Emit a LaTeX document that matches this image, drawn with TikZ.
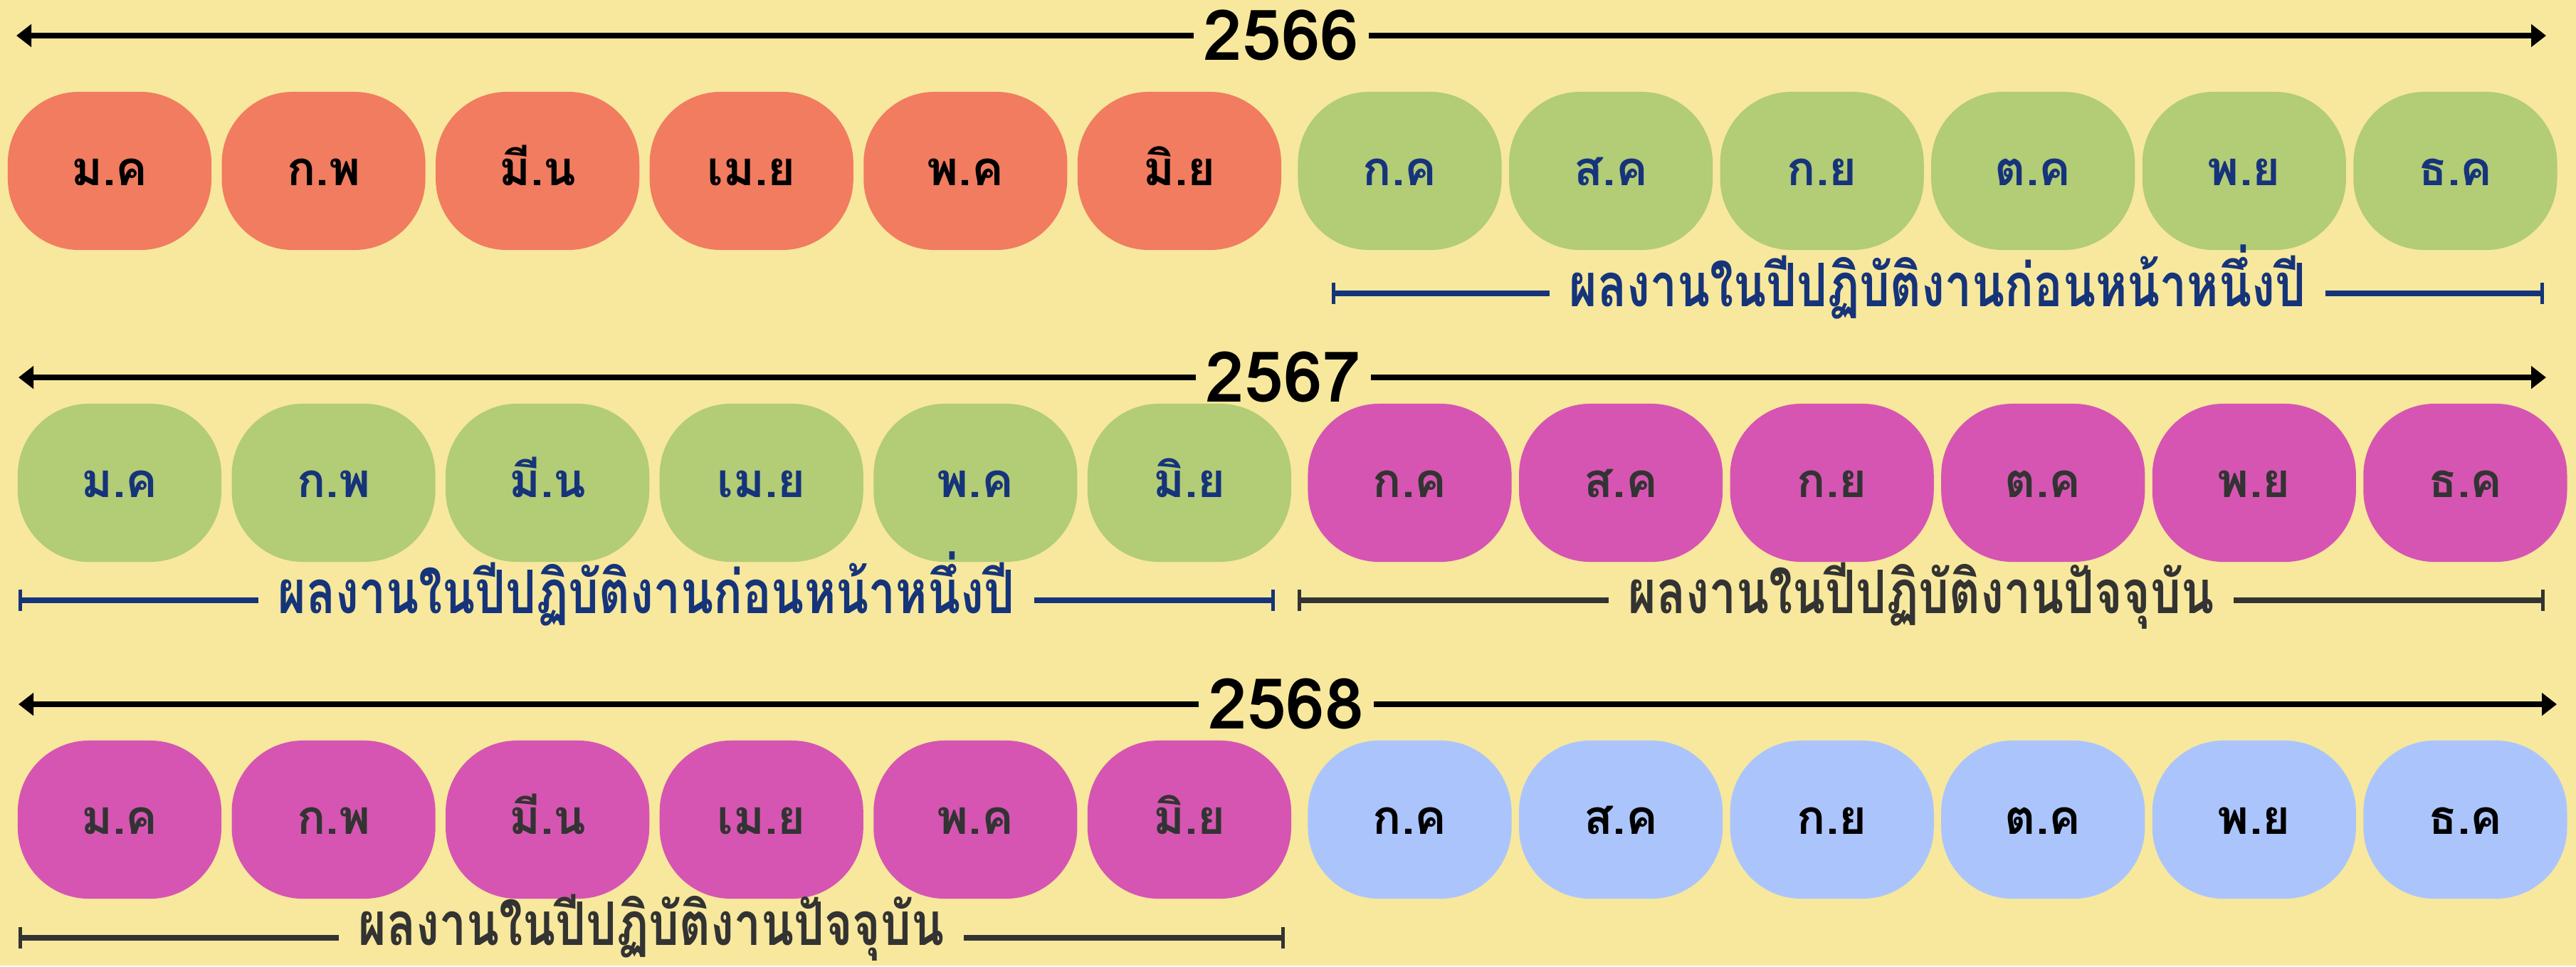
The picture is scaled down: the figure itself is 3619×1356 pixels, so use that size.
\documentclass[tikz,border=0pt]{standalone}
\usepackage{fontspec}
\usepackage{tikz}
\usetikzlibrary{arrows.meta, positioning}
\newfontfamily\thaifont[Script=Thai]{Loma}
\newfontfamily\thainarrow[Script=Thai, FakeStretch=0.8]{Loma}
\definecolor{paper}{RGB}{247,232,157}
\definecolor{salmon}{RGB}{241,124,96}
\definecolor{leaf}{RGB}{179,204,118}
\definecolor{orchid}{RGB}{214,85,178}
\definecolor{sky}{RGB}{171,197,252}
\definecolor{navy}{RGB}{22,52,122}
\definecolor{ink}{RGB}{51,51,51}
\tikzstyle{yeararrow} = [line width=0.075cm, -{Triangle[length=0.21cm, width=0.31cm]}]
\tikzstyle{year} = [inner xsep=0.13cm, inner ysep=0cm, text height=0.68cm, text depth=0cm, font=\thaifont\bfseries\fontsize{28pt}{28pt}\selectfont]
\tikzstyle{month} = [rectangle, rounded corners=1cm, minimum width=2.86cm, minimum height=2.22cm, text height=0.4cm, text depth=0cm, text centered, font=\thaifont\bfseries\fontsize{19pt}{19pt}\selectfont]
\tikzstyle{oldmonth} = [month, fill=salmon, text=black]
\tikzstyle{prevmonth} = [month, fill=leaf, text=navy]
\tikzstyle{curmonth} = [month, fill=orchid, text=ink]
\tikzstyle{nextmonth} = [month, fill=sky, text=black]
\tikzstyle{period} = [line width=0.08cm, -{Bar[width=0.3cm, line width=0.05cm]}]
\tikzstyle{periodtext} = [inner xsep=0.27cm, inner ysep=0cm, text height=0.5cm, text depth=0.14cm, font=\thainarrow\bfseries\fontsize{24pt}{24pt}\selectfont]

\begin{document}
\begin{tikzpicture}[x=0.01cm, y=-0.01cm]

\fill [paper] (0,0) rectangle (3619,1356);

% 2566
\node (y1) [year] at (1800,50) {2566};
\coordinate (y1l) at (23,50);
\coordinate (y1r) at (3577,50);
\draw [yeararrow] (y1.west) -- (y1l);
\draw [yeararrow] (y1.east) -- (y1r);

\node (r1m1) [oldmonth] at (154,240) {ม.ค};
\node (r1m2) [oldmonth, right=0.13cm of r1m1] {ก.พ};
\node (r1m3) [oldmonth, right=0.13cm of r1m2] {มี.น};
\node (r1m4) [oldmonth, right=0.13cm of r1m3] {เม.ย};
\node (r1m5) [oldmonth, right=0.13cm of r1m4] {พ.ค};
\node (r1m6) [oldmonth, right=0.13cm of r1m5] {มิ.ย};
\node (r1m7) [prevmonth, right=0.22cm of r1m6] {ก.ค};
\node (r1m8) [prevmonth, right=0.09cm of r1m7] {ส.ค};
\node (r1m9) [prevmonth, right=0.09cm of r1m8] {ก.ย};
\node (r1m10) [prevmonth, right=0.09cm of r1m9] {ต.ค};
\node (r1m11) [prevmonth, right=0.09cm of r1m10] {พ.ย};
\node (r1m12) [prevmonth, right=0.09cm of r1m11] {ธ.ค};

\node (p1) [periodtext, text=navy] at (2722,412) {ผลงานในปีปฏิบัติงานก่อนหน้าหนึ่งปี};
\coordinate (p1l) at (1871,412);
\coordinate (p1r) at (3574,412);
\draw [period, navy] (p1.west) -- (p1l);
\draw [period, navy] (p1.east) -- (p1r);

% 2567
\node (y2) [year] at (1803,530) {2567};
\coordinate (y2l) at (26,530);
\coordinate (y2r) at (3577,530);
\draw [yeararrow] (y2.west) -- (y2l);
\draw [yeararrow] (y2.east) -- (y2r);

\node (r2m1) [prevmonth] at (168,678) {ม.ค};
\node (r2m2) [prevmonth, right=0.13cm of r2m1] {ก.พ};
\node (r2m3) [prevmonth, right=0.13cm of r2m2] {มี.น};
\node (r2m4) [prevmonth, right=0.13cm of r2m3] {เม.ย};
\node (r2m5) [prevmonth, right=0.13cm of r2m4] {พ.ค};
\node (r2m6) [prevmonth, right=0.13cm of r2m5] {มิ.ย};
\node (r2m7) [curmonth, right=0.22cm of r2m6] {ก.ค};
\node (r2m8) [curmonth, right=0.09cm of r2m7] {ส.ค};
\node (r2m9) [curmonth, right=0.09cm of r2m8] {ก.ย};
\node (r2m10) [curmonth, right=0.09cm of r2m9] {ต.ค};
\node (r2m11) [curmonth, right=0.09cm of r2m10] {พ.ย};
\node (r2m12) [curmonth, right=0.09cm of r2m11] {ธ.ค};

\node (p2) [periodtext, text=navy] at (908,843) {ผลงานในปีปฏิบัติงานก่อนหน้าหนึ่งปี};
\coordinate (p2l) at (26,843);
\coordinate (p2r) at (1791,843);
\draw [period, navy] (p2.west) -- (p2l);
\draw [period, navy] (p2.east) -- (p2r);

\node (p3) [periodtext, text=ink] at (2699,843) {ผลงานในปีปฏิบัติงานปัจจุบัน};
\coordinate (p3l) at (1823,843);
\coordinate (p3r) at (3575,843);
\draw [period, ink] (p3.west) -- (p3l);
\draw [period, ink] (p3.east) -- (p3r);

% 2568
\node (y3) [year] at (1807,989) {2568};
\coordinate (y3l) at (26,989);
\coordinate (y3r) at (3592,989);
\draw [yeararrow] (y3.west) -- (y3l);
\draw [yeararrow] (y3.east) -- (y3r);

\node (r3m1) [curmonth] at (168,1151) {ม.ค};
\node (r3m2) [curmonth, right=0.13cm of r3m1] {ก.พ};
\node (r3m3) [curmonth, right=0.13cm of r3m2] {มี.น};
\node (r3m4) [curmonth, right=0.13cm of r3m3] {เม.ย};
\node (r3m5) [curmonth, right=0.13cm of r3m4] {พ.ค};
\node (r3m6) [curmonth, right=0.13cm of r3m5] {มิ.ย};
\node (r3m7) [nextmonth, right=0.22cm of r3m6] {ก.ค};
\node (r3m8) [nextmonth, right=0.09cm of r3m7] {ส.ค};
\node (r3m9) [nextmonth, right=0.09cm of r3m8] {ก.ย};
\node (r3m10) [nextmonth, right=0.09cm of r3m9] {ต.ค};
\node (r3m11) [nextmonth, right=0.09cm of r3m10] {พ.ย};
\node (r3m12) [nextmonth, right=0.09cm of r3m11] {ธ.ค};

\node (p4) [periodtext, text=ink, text depth=0.3cm] at (915,1317) {ผลงานในปีปฏิบัติงานปัจจุบัน};
\coordinate (p4l) at (26,1317);
\coordinate (p4r) at (1805,1317);
\draw [period, ink] (p4.west) -- (p4l);
\draw [period, ink] (p4.east) -- (p4r);

\end{tikzpicture}
\end{document}
